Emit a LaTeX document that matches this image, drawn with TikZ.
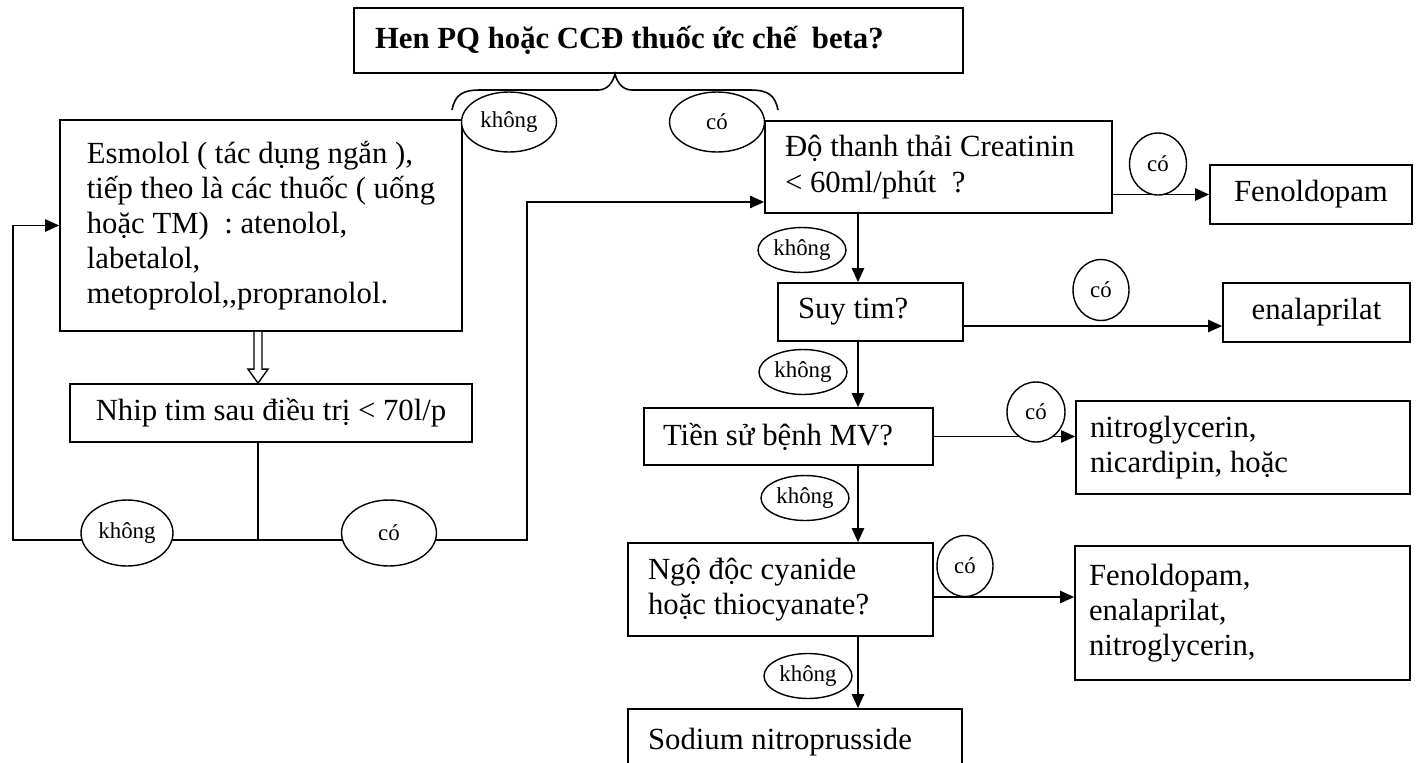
\documentclass[tikz,border=0pt]{standalone}
\usepackage{fontspec}
\setmainfont{Liberation Serif}
\usetikzlibrary{shapes.geometric, arrows.meta, calc}
\newcommand{\boxfont}{\fontsize{17.5}{20}\selectfont}
\newcommand{\tagfont}{\fontsize{13}{15}\selectfont}
\tikzset{
  box/.style={draw, line width=1pt, inner sep=0pt, align=flush left, font=\boxfont},
  tag/.style={draw, ellipse, fill=white, line width=0.8pt, inner sep=0pt, font=\tagfont},
  link/.style={line width=1pt, -{Triangle[length=8pt,width=7pt]}}
}

\begin{document}
\begin{tikzpicture}[x=0.02cm, y=-0.02cm]
  \useasboundingbox (0,0) rectangle (1418,762);
  \fill[white] (0,0) rectangle (1418,762);

  % Question
  \node[box, font=\boxfont\bfseries, minimum width=12.18cm, minimum height=1.3cm, text width=11.34cm] (top) at (658.5,40.5) {Hen PQ hoặc CCĐ thuốc ức chế~ beta?};

  % Left branch
  \node[box, minimum width=8.04cm, minimum height=4.22cm] (esm) at (261,225.5) {Esmolol ( tác dụng ngắn ),\\tiếp theo là các thuốc ( uống\\hoặc TM)~ : atenolol,\\labetalol,\\metoprolol,{},propranolol.};
  \node[box, minimum width=8.04cm, minimum height=1.16cm] (nhip) at (271,413) {Nhip tim sau điều trị < 70l/p};

  % Right branch
  \node[box, minimum width=6.94cm, minimum height=1.84cm, text width=6.14cm] (cre) at (938.5,167) {Độ thanh thải Creatinin\\< 60ml/phút~ ?};
  \node[box, minimum width=4.04cm, minimum height=1.18cm] (fen1) at (1311,194.5) {Fenoldopam};
  \node[box, minimum width=3.7cm, minimum height=1.16cm, text width=2.9cm] (suy) at (870.5,312) {Suy tim?};
  \node[box, minimum width=3.74cm, minimum height=1.18cm] (enal) at (1316.5,312.5) {enalaprilat};
  \node[box, minimum width=5.78cm, minimum height=1.14cm, text width=5.02cm] (tien) at (788.5,436.5) {Tiền sử bệnh MV?};
  \node[box, minimum width=6.68cm, minimum height=1.86cm, text width=6.12cm] (nitro) at (1243,447.5) {nitroglycerin,\\nicardipin, hoặc};
  \node[box, minimum width=6.1cm, minimum height=1.86cm, text width=5.3cm] (ngo) at (780.5,589.5) {Ngộ độc cyanide\\hoặc thiocyanate?};
  \node[box, minimum width=6.7cm, minimum height=2.68cm, text width=6.14cm] (fen2) at (1242.5,613) {Fenoldopam,\\enalaprilat,\\nitroglycerin,};
  \node[box, minimum width=6.68cm, minimum height=1.32cm, text width=5.88cm] (sod) at (795,742) {Sodium nitroprusside};

  % Junctions
  \coordinate (jn) at (258,540);
  \coordinate (lc) at (13,540);
  \coordinate (rc) at (527,540);
  \coordinate (col) at (858,0);
  \coordinate (tip) at (top.south -| 615,0);
  \coordinate (creL) at ([yshift=-0.7cm]cre.west);
  \coordinate (suyR) at ([yshift=-0.28cm]suy.east);
  \coordinate (ngoR) at ([yshift=-0.15cm]ngo.east);

  % Brace under the question
  \draw[line width=0.9pt] (452,110) .. controls (455,95) and (462,90) .. (480,90) -- (598,90)
    .. controls (608,90) and (613,82) .. (tip) .. controls (617,82) and (622,90) .. (632,90)
    -- (750,90) .. controls (768,90) and (775,95) .. (778,110);

  % Hollow arrow
  \coordinate (ha) at (esm.south -| jn);
  \coordinate (hb) at (nhip.north -| jn);
  \draw[line width=0.8pt, fill=white] ($(ha)+(-4,0)$) -- ($(hb)+(-4,-14)$) -- ($(hb)+(-10,-14)$) -- (hb)
    -- ($(hb)+(10,-14)$) -- ($(hb)+(4,-14)$) -- ($(ha)+(4,0)$);

  % Loop back / forward
  \draw[line width=1pt] (nhip.south -| jn) -- (jn);
  \draw[link] (jn) -- (lc) |- (esm.west);
  \draw[link] (jn) -- (rc) |- (creL);

  % Decisions
  \draw[link] (cre.east |- fen1.west) -- (fen1.west);
  \draw[link] (cre.south -| col) -- (suy.north -| col);
  \draw[link] (suyR) -- (enal.west |- suyR);
  \draw[link] (suy.south -| col) -- (tien.north -| col);
  \draw[link] (tien.east) -- (nitro.west |- tien.east);
  \draw[link] (tien.south -| col) -- (ngo.north -| col);
  \draw[link] (ngoR) -- (fen2.west |- ngoR);
  \draw[link] (ngo.south -| col) -- (sod.north -| col);

  % Labels
  \foreach \n/\x/\y/\w/\h/\t in {
    kTop/509/122/1.9/1.2/không,
    cTop/717/122/1.9/1.2/có,
    kLoop/127/533/1.84/1.32/không,
    cLoop/389/533/1.9/1.32/có,
    kCre/802/250/1.76/0.9/không,
    kSuy/803/372/1.76/0.9/không,
    kTien/805/498/1.76/0.9/không,
    kNgo/808/676/1.76/0.9/không,
    cCre/1158/164/1.14/1.24/có,
    cSuy/1101/290/1.12/1.22/có,
    cTien/1036/412/1.16/1.2/có,
    cNgo/965/566/1.12/1.22/có
  }{
    \node[tag, minimum width=\w cm, minimum height=\h cm] (\n) at (\x,\y) {\t};
  }
\end{tikzpicture}
\end{document}
